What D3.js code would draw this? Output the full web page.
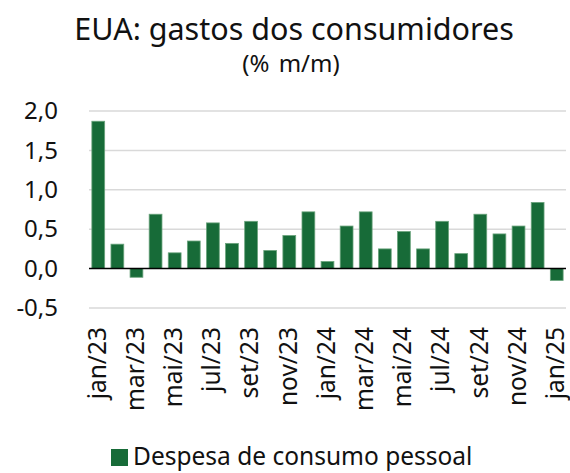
<!DOCTYPE html>
<html>
<head>
<meta charset="utf-8">
<script src="https://cdn.jsdelivr.net/npm/d3@7"></script>
<style>
  body { margin: 0; background: #fff; }
  text { font-family: "Noto Sans", sans-serif; fill: #111; }
</style>
</head>
<body>
<div id="my_dataviz"></div>
<script>
// data
var months = ["jan/23","fev/23","mar/23","abr/23","mai/23","jun/23","jul/23","ago/23","set/23","out/23","nov/23","dez/23",
              "jan/24","fev/24","mar/24","abr/24","mai/24","jun/24","jul/24","ago/24","set/24","out/24","nov/24","dez/24","jan/25"];
var values = [1.87, 0.31, -0.11, 0.69, 0.20, 0.35, 0.58, 0.32, 0.60, 0.23, 0.42, 0.72,
              0.09, 0.54, 0.72, 0.25, 0.47, 0.25, 0.60, 0.19, 0.69, 0.44, 0.54, 0.84, -0.15];
var yTicks = [-0.5, 0, 0.5, 1.0, 1.5, 2.0];
var seriesName = "Despesa de consumo pessoal";

var data = months.map(function (m, i) { return {month: m, value: values[i]}; });

var W = 570, H = 473;
var margin = {top: 111, right: 4, bottom: 165, left: 89},
    width = W - margin.left - margin.right,
    height = H - margin.top - margin.bottom;

var svg = d3.select("#my_dataviz")
  .append("svg")
    .attr("width", W)
    .attr("height", H);

// title
svg.append("text")
  .attr("x", 294).attr("y", 40)
  .attr("text-anchor", "middle")
  .style("font-size", "30.5px")
  .text("EUA: gastos dos consumidores");
svg.append("text")
  .attr("x", 291).attr("y", 72)
  .attr("text-anchor", "middle")
  .style("font-size", "24px")
  .style("word-spacing", "3px")
  .text("(% m/m)");

var g = svg.append("g")
  .attr("transform", "translate(" + margin.left + "," + margin.top + ")");

var x = d3.scaleBand()
  .domain(months)
  .range([0, width])
  .paddingInner(0.33)
  .paddingOuter(0.15);

var y = d3.scaleLinear()
  .domain([-0.5, 2.0])
  .range([height, 0]);

// gridlines
g.append("g")
  .selectAll("line")
  .data(yTicks.filter(function (d) { return d !== 0; }))
  .enter()
  .append("line")
    .attr("x1", 0).attr("x2", width)
    .attr("y1", function (d) { return y(d); })
    .attr("y2", function (d) { return y(d); })
    .style("stroke", "#d9d9d9")
    .style("stroke-width", 1.5);

// Y axis labels
var yAxis = g.append("g")
  .call(d3.axisLeft(y).tickValues(yTicks).tickSize(0).tickPadding(31)
    .tickFormat(function (d) { return d3.format(".1f")(d).replace(".", ",").replace("−", "-"); }));
yAxis.select(".domain").remove();
yAxis.selectAll("text")
  .style("font-size", "24px")
  .style("font-family", "Noto Sans, sans-serif")
  .attr("fill", "#111");

// bars
g.append("g")
  .selectAll("rect")
  .data(data)
  .enter()
  .append("rect")
    .attr("x", function (d) { return x(d.month); })
    .attr("y", function (d) { return y(Math.max(0, d.value)); })
    .attr("width", x.bandwidth())
    .attr("height", function (d) { return Math.abs(y(d.value) - y(0)); })
    .style("fill", "#176b38")
    .style("stroke", "#6aa37c")
    .style("stroke-width", 0.8);

// zero line
g.append("line")
  .attr("x1", 0).attr("x2", width)
  .attr("y1", y(0)).attr("y2", y(0))
  .style("stroke", "#000")
  .style("stroke-width", 1.5);

// X axis labels, every other month
var xAxis = g.append("g")
  .attr("transform", "translate(0," + (height + 19) + ")")
  .call(d3.axisBottom(x).tickSize(0).tickPadding(0)
    .tickValues(months.filter(function (d, i) { return i % 2 === 0; })));
xAxis.select(".domain").remove();
xAxis.selectAll("text")
  .style("font-size", "24.5px")
  .style("font-family", "Noto Sans, sans-serif")
  .attr("fill", "#111")
  .attr("transform", "rotate(-90)")
  .attr("text-anchor", "end")
  .attr("dy", "0.3em")
  .attr("x", 0)
  .attr("y", 0);

// legend
var legend = svg.append("g").attr("transform", "translate(111,449)");
legend.append("rect")
  .attr("width", 17).attr("height", 17)
  .style("fill", "#176b38");
legend.append("text")
  .attr("x", 22).attr("y", 16)
  .style("font-size", "24.5px")
  .text(seriesName);
</script>
</body>
</html>
